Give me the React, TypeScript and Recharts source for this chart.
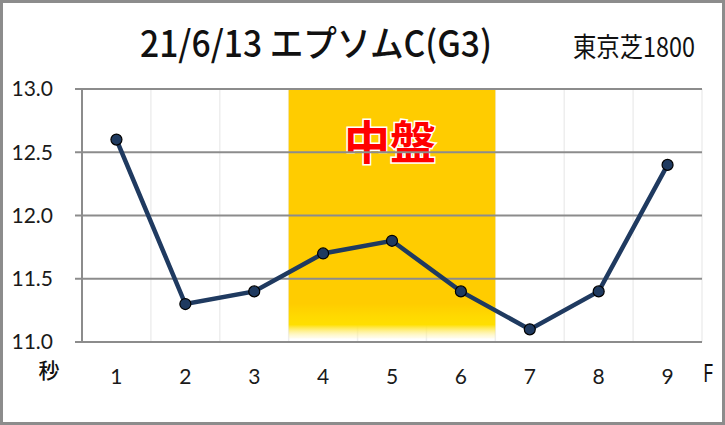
import { CartesianGrid, Line, LineChart, ReferenceArea, XAxis, YAxis } from "recharts"

const laps = ["1", "2", "3", "4", "5", "6", "7", "8", "9"]
const lapTimes = [12.6, 11.3, 11.4, 11.7, 11.8, 11.4, 11.1, 11.4, 12.4]
const yTicks = [11.0, 11.5, 12.0, 12.5, 13.0]
const midLaps = [4, 6]
const title = "21/6/13 エプソムC(G3)"
const course = "東京芝1800"
const midLabel = "中盤"

const data = laps.map((lap, i) => ({ f: i + 1, lap, t: lapTimes[i] }))
const centerTicks = data.map((d) => d.f)
const edgeTicks = [...centerTicks.map((f) => f - 0.5), laps.length + 0.5]
const xDomain = [0.5, laps.length + 0.5]

const GRAY = "#8c8c8c"
const NAVY = "#1f3a60"
const tickFont = { fontFamily: "Lato, 'Open Sans', sans-serif", fontSize: 21, fill: "#1a1a1a" }

function MidLabel(props: any) {
  const vb = props.viewBox
  if (!vb) return null
  return (
    <text
      x={vb.x + vb.width / 2 - 2}
      y={vb.y + 50}
      textAnchor="middle"
      dominantBaseline="central"
      fontFamily="'Noto Sans CJK JP', sans-serif"
      fontWeight={700}
      fontSize={46}
      fill="#ff0000"
      stroke="#ffffff"
      strokeWidth={3}
      paintOrder="stroke"
    >
      {midLabel}
    </text>
  )
}

export default function App() {
  return (
    <div style={{ position: "fixed", left: 0, top: 0, width: 725, height: 425, background: "#fff" }}>
      <svg width={725} height={425} style={{ position: "absolute", left: 0, top: 0, pointerEvents: "none" }}>
        <defs>
          <linearGradient id="midFill" x1="0" y1="0" x2="0" y2="1">
            <stop offset="0" stopColor="#ffcc00" />
            <stop offset="0.86" stopColor="#ffcc00" />
            <stop offset="0.91" stopColor="#ffd900" />
            <stop offset="0.945" stopColor="#ffdf00" />
            <stop offset="1" stopColor="#fff6c8" stopOpacity={0.3} />
          </linearGradient>
        </defs>
      </svg>
      <div style={{ position: "absolute", left: 0, top: 0 }}>
        <LineChart width={725} height={425} data={data} margin={{ top: 89, right: 23, bottom: 43, left: 22 }}>
          <ReferenceArea
            xAxisId="edge"
            x1={midLaps[0] - 0.5}
            x2={midLaps[1] + 0.5}
            y1={11.028}
            y2={13}
            fill="url(#midFill)"
            fillOpacity={1}
            stroke="none"
            label={<MidLabel />}
          />
          <CartesianGrid xAxisId="edge" horizontal={false} stroke="#eeeeee" strokeWidth={1.5} />
          <CartesianGrid xAxisId="edge" vertical={false} stroke={GRAY} strokeWidth={2} zIndex={150} />
          <XAxis
            xAxisId="edge"
            dataKey="f"
            type="number"
            domain={xDomain}
            ticks={edgeTicks}
            interval={0}
            height={0}
            tickFormatter={() => ""}
            tickSize={8}
            axisLine={{ stroke: GRAY, strokeWidth: 2 }}
            tickLine={{ stroke: GRAY, strokeWidth: 2 }}
          />
          <XAxis
            xAxisId="lbl"
            dataKey="f"
            type="number"
            domain={xDomain}
            ticks={centerTicks}
            interval={0}
            height={40}
            tickFormatter={(v) => laps[v - 1]}
            tickSize={0}
            tickMargin={27}
            axisLine={false}
            tickLine={false}
            tick={tickFont}
          />
          <YAxis
            type="number"
            domain={[11, 13]}
            ticks={yTicks}
            interval={0}
            width={60}
            tickFormatter={(v) => v.toFixed(1)}
            tickSize={7}
            tickMargin={22}
            axisLine={{ stroke: GRAY, strokeWidth: 2 }}
            tickLine={{ stroke: GRAY, strokeWidth: 2 }}
            tick={tickFont}
          />
          <Line
            xAxisId="lbl"
            dataKey="t"
            stroke={NAVY}
            strokeWidth={4.5}
            dot={{ r: 5.5, fill: NAVY, stroke: "#000", strokeWidth: 1.2 }}
            isAnimationActive={false}
          />
        </LineChart>
      </div>
      <svg width={725} height={425} style={{ position: "absolute", left: 0, top: 0, pointerEvents: "none" }}>
        <text
          x={140}
          y={57}
          textLength={352}
          lengthAdjust="spacingAndGlyphs"
          fontFamily="'Noto Sans CJK JP', sans-serif"
          fontSize={36}
          fontWeight={500}
          fill="#111"
        >
          {title}
        </text>
        <text
          x={573}
          y={57}
          textLength={122}
          lengthAdjust="spacingAndGlyphs"
          fontFamily="'Noto Sans CJK JP', sans-serif"
          fontSize={27}
          fill="#111"
        >
          {course}
        </text>
        <text x={49} y={378} textAnchor="middle" fontFamily="'Noto Sans CJK JP', sans-serif" fontWeight={500} fontSize={21} fill="#111">
          秒
        </text>
        <text x={703} y={382} textLength={10} lengthAdjust="spacingAndGlyphs" fontFamily="'Noto Sans', sans-serif" fontSize={26} fill="#111">
          F
        </text>
      </svg>
      <div
        style={{
          position: "absolute",
          left: 0,
          top: 0,
          width: 725,
          height: 425,
          border: `3px solid ${GRAY}`,
          boxSizing: "border-box",
          pointerEvents: "none",
        }}
      />
    </div>
  )
}
